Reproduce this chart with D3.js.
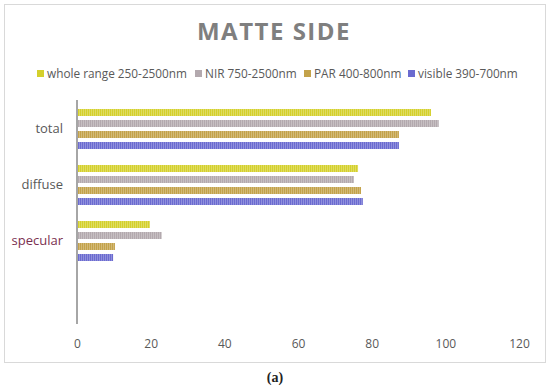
<!DOCTYPE html>
<html>
<head>
<meta charset="utf-8">
<script src="https://cdn.jsdelivr.net/npm/d3@7"></script>
<style>
  body { margin: 0; background: #fff; }
  svg { display: block; }
</style>
</head>
<body>
<div id="chart"></div>
<script>
// categories top to bottom (last one is an empty row, as in the sheet)
let categories = ["total", "diffuse", "specular", ""];
let seriesNames = ["whole range 250-2500nm", "NIR 750-2500nm", "PAR 400-800nm", "visible 390-700nm"];
let seriesKeys = ["whole", "nir", "par", "visible"];
let wholeVals = [96.1, 76.3, 19.8, null];
let nirVals = [98.2, 75.2, 23.0, null];
let parVals = [87.4, 77.1, 10.3, null];
let visibleVals = [87.4, 77.6, 9.8, null];
let xTicks = [0, 20, 40, 60, 80, 100, 120];

let colors = ["#d4d02c", "#b3a9ae", "#c3a24a", "#6b6bd0"];

let data = categories.map(function (c, i) {
    return { cat: c, whole: wholeVals[i], nir: nirVals[i], par: parVals[i], visible: visibleVals[i] };
});

let w = 550;
let h = 386;
let plotLeft = 77, plotRight = 519, plotTop = 101, plotBottom = 325;

let svg = d3.select("#chart")
    .append("svg")
    .attr("width", w)
    .attr("height", h);

let defs = svg.append("defs");
colors.forEach(function (c, i) {
    let p = defs.append("pattern")
        .attr("id", "pat" + i)
        .attr("patternUnits", "userSpaceOnUse")
        .attr("width", 2)
        .attr("height", 10);
    p.append("rect").attr("width", 2).attr("height", 10).attr("fill", c);
    p.append("rect").attr("x", 1).attr("width", 1).attr("height", 10)
        .attr("fill", "#fff").attr("opacity", 0.25);
});

// chart frame
svg.append("rect")
    .attr("x", 4.5).attr("y", 4.5)
    .attr("width", 541).attr("height", 358)
    .attr("fill", "#fff")
    .attr("stroke", "#d9d9d9");

svg.append("text")
    .attr("x", 274)
    .attr("y", 40)
    .attr("text-anchor", "middle")
    .attr("font-family", "'Open Sans', sans-serif")
    .attr("font-weight", "bold")
    .attr("font-size", "24px")
    .attr("letter-spacing", "1.5px")
    .attr("fill", "#7f7f7f")
    .text("MATTE SIDE");

let xScale = d3.scaleLinear()
    .domain([0, 120])
    .range([plotLeft, plotRight]);

let yScale = d3.scaleBand()
    .domain(categories)
    .range([plotTop, plotBottom]);

let ySub = d3.scaleBand()
    .domain(seriesKeys)
    .range([0, yScale.bandwidth()])
    .paddingInner(0.364)
    .paddingOuter(0.727);

let xAxis = d3.axisBottom(xScale).tickValues(xTicks).tickSize(0);
let xAxisGroup = svg.append("g")
    .attr("transform", "translate(0," + (plotBottom + 11) + ")")
    .call(xAxis);
xAxisGroup.select(".domain").remove();
xAxisGroup.selectAll("text")
    .attr("font-family", "'Open Sans', sans-serif")
    .attr("font-size", "12px")
    .attr("fill", "#595959");

let yAxis = d3.axisLeft(yScale).tickSize(0).tickPadding(14);
let yAxisGroup = svg.append("g")
    .attr("transform", "translate(" + plotLeft + ",0)")
    .call(yAxis);
yAxisGroup.select(".domain").remove();
yAxisGroup.selectAll("text")
    .attr("font-family", "'Open Sans', sans-serif")
    .attr("font-size", "13px")
    .attr("fill", function (d) { return d == "specular" ? "#7a3050" : "#595959"; });

svg.append("g")
    .selectAll("g")
    .data(data)
    .enter()
    .append("g")
    .attr("transform", function (d) { return "translate(0," + yScale(d.cat) + ")"; })
    .selectAll("rect")
    .data(function (d) { return seriesKeys.map(function (k, i) { return { key: k, i: i, value: d[k] }; }).filter(function (d) { return d.value != null; }); })
    .enter().append("rect")
    .attr("x", xScale(0))
    .attr("y", function (d) { return ySub(d.key); })
    .attr("width", function (d) { return xScale(d.value) - xScale(0); })
    .attr("height", ySub.bandwidth())
    .attr("fill", function (d) { return "url(#pat" + d.i + ")"; });

// vertical axis line at 0
svg.append("line")
    .attr("x1", xScale(0)).attr("x2", xScale(0))
    .attr("y1", plotTop - 1).attr("y2", plotBottom - 1)
    .attr("stroke", "#a6a6a6")
    .attr("stroke-width", 2);

// legend
let legendX = [37, 195, 304, 408];
let legend = svg.append("g");
seriesNames.forEach(function (name, i) {
    legend.append("rect")
        .attr("x", legendX[i])
        .attr("y", 70)
        .attr("width", 7)
        .attr("height", 7)
        .attr("fill", colors[i]);
    legend.append("text")
        .attr("x", legendX[i] + 10)
        .attr("y", 78)
        .attr("font-family", "'Open Sans', sans-serif")
        .attr("font-size", "11.8px")
        .attr("fill", "#595959")
        .text(name);
});

svg.append("text")
    .attr("x", 275)
    .attr("y", 382)
    .attr("text-anchor", "middle")
    .attr("font-family", "'Liberation Serif', serif")
    .attr("font-weight", "bold")
    .attr("font-size", "14px")
    .attr("fill", "#222")
    .text("(a)");
</script>
</body>
</html>
